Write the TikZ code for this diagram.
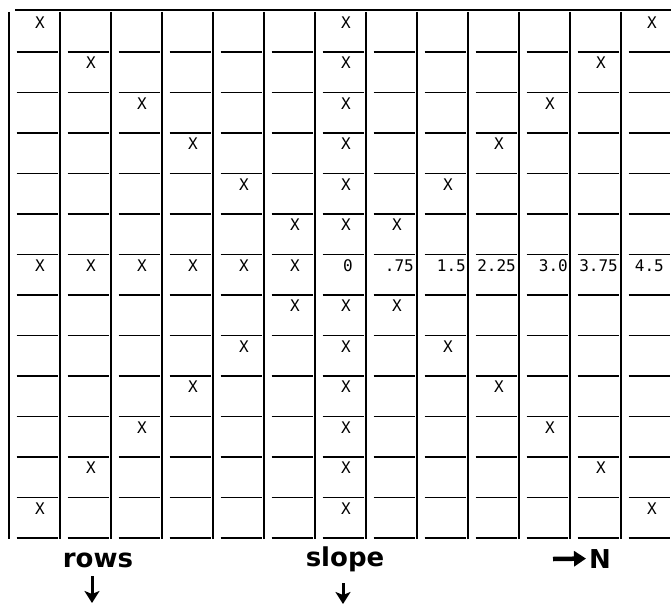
\documentclass[tikz,border=0pt]{standalone}
\usepackage{fontspec}
\setmonofont{DejaVu Sans Mono}
\newfontfamily\lblfont{DejaVu Sans}
\usetikzlibrary{arrows.meta}
\tikzset{
  vrule/.style={line width=2.2pt},
  hseg/.style={line width=1.8pt},
  xmark/.style={inner sep=0pt, font=\ttfamily\fontsize{16}{16}\selectfont},
  numlab/.style={xmark, anchor=east},
  axlab/.style={inner sep=0pt, anchor=base, font=\lblfont\bfseries\fontsize{26}{26}\selectfont},
  darr/.style={-{Stealth[length=12pt,width=15pt,inset=3pt]}, line width=3pt},
  rarr/.style={-{Triangle[length=12pt,width=15pt]}, line width=4.5pt}}

\begin{document}
\begin{tikzpicture}[x=1pt, y=-1pt]
  \useasboundingbox (0,0) rectangle (671,604);
  % top rule, column rules, short row rules
  \draw[hseg] (15,10) -- (671,10);
  \foreach \k in {0,...,12}
    \draw[vrule] ({9+51*\k},12) -- ({9+51*\k},539);
  \foreach \j in {0,...,12}
    \foreach \k in {0,...,12}
      \draw[hseg] ({16.5+51*\k},{52+40.5*\j}) -- ++(41,0);
  % marks off the slope column
  \foreach \k in {0,...,5,7,8,...,12} {
    \pgfmathtruncatemacro\d{abs(\k-6)}
    \node[xmark] (up\k) at ({40+51*\k},{22.5+40.5*(6-\d)}) {X};
    \node[xmark] (dn\k) at ({40+51*\k},{22.5+40.5*(6+\d)}) {X};
  }
  \foreach \k in {0,...,5}
    \node[xmark] (mid\k) at ({40+51*\k},265.5) {X};
  % slope column
  \foreach \r in {0,...,5,7,8,...,12}
    \node[xmark] (sl\r) at (346,{22.5+40.5*\r}) {X};
  \node[xmark] (n6) at (348,265.5) {0};
  \foreach \k/\v/\e in {7/.75/414,8/1.5/466,9/2.25/516,10/3.0/568,11/3.75/618,12/4.5/664}
    \node[numlab] (n\k) at (\e,265.5) {\v};
  % labels under the table
  \node[axlab] (rows) at (98,567) {rows};
  \node[axlab] (slope) at (345,566) {slope};
  \node[axlab, anchor=base west] (N) at (589,568) {N};
  \coordinate (rowsTail) at (92,576);
  \coordinate (rowsTip) at (92,603);
  \coordinate (slopeTail) at (343,583);
  \coordinate (slopeTip) at (343,604);
  \coordinate (nTail) at (553,559);
  \draw[darr] (rowsTail) -- (rowsTip);
  \draw[darr] (slopeTail) -- (slopeTip);
  \draw[rarr, shorten >=3pt] (nTail) -- (N.west);
\end{tikzpicture}
\end{document}
